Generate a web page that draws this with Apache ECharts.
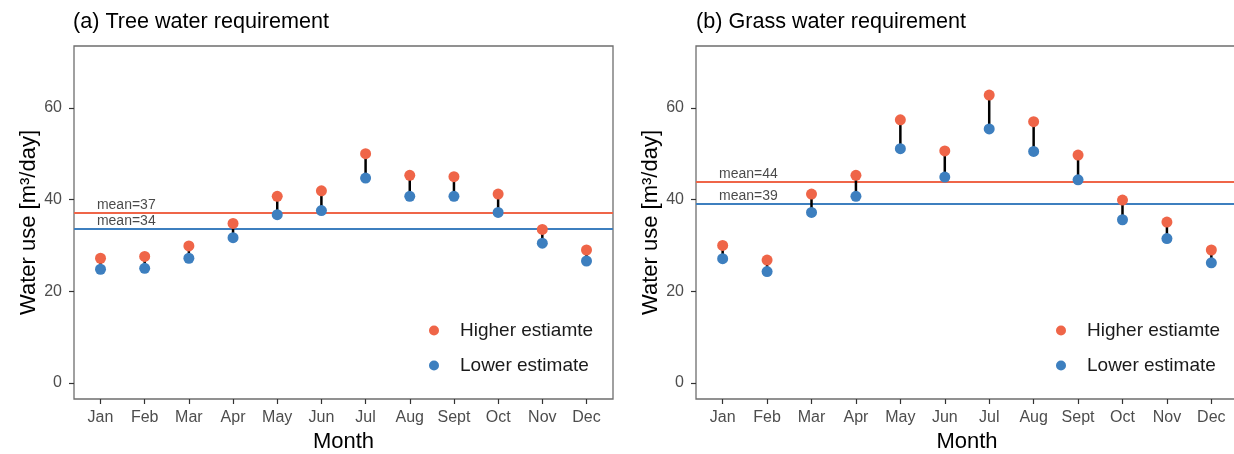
<!DOCTYPE html>
<html>
<head>
<meta charset="utf-8">
<script src="https://cdn.jsdelivr.net/npm/echarts@6/dist/echarts.min.js"></script>
<style>html,body{margin:0;padding:0;background:#fff}#chart{width:1234px;height:454px}</style>
</head>
<body>
<div id="chart"></div>
<script>
const months = ['Jan','Feb','Mar','Apr','May','Jun','Jul','Aug','Sept','Oct','Nov','Dec'];
const treeHigh = [27.2, 27.6, 29.9, 34.8, 40.7, 41.9, 50.0, 45.3, 45.0, 41.2, 33.5, 29.0];
const treeLow  = [24.8, 25.0, 27.2, 31.7, 36.7, 37.6, 44.7, 40.7, 40.7, 37.2, 30.5, 26.6];
const grassHigh = [30.0, 26.8, 41.2, 45.3, 57.4, 50.6, 62.8, 57.0, 49.7, 39.9, 35.1, 29.0];
const grassLow  = [27.1, 24.3, 37.2, 40.7, 51.1, 44.9, 55.4, 50.5, 44.3, 35.6, 31.5, 26.2];
const treeMeans = [37.2, 33.7];
const grassMeans = [43.9, 39.1];
const treeMeanLabels = ['mean=37', 'mean=34'];
const grassMeanLabels = ['mean=44', 'mean=39'];
const yTicks = [0, 20, 40, 60];
const panelTitles = ['(a) Tree water requirement', '(b) Grass water requirement'];
const seriesNames = ['Higher estiamte', 'Lower estimate'];

const RED = '#EF6548';
const BLUE = '#3D7FBF';
const FONT = '"Liberation Sans", Arial, Helvetica, sans-serif';
const xIdx = months.map((m, i) => i);

const chart = echarts.init(document.getElementById('chart'), null, {renderer: 'canvas'});

function xAxisDef(gi) {
  return {
    type: 'value', gridIndex: gi, min: -0.6, max: 11.6, position: 'bottom',
    name: 'Month', nameLocation: 'middle', nameGap: 31,
    nameTextStyle: {fontSize: 22, color: '#000', fontFamily: FONT},
    axisLine: {show: false, onZero: false},
    splitLine: {show: false},
    axisTick: {show: true, length: 5, customValues: xIdx, lineStyle: {color: '#333', width: 1.2}},
    axisLabel: {customValues: xIdx, formatter: v => months[Math.round(v)], fontSize: 16, color: '#4D4D4D', margin: 11, fontFamily: FONT}
  };
}
function yAxisDef(gi) {
  return {
    type: 'value', gridIndex: gi, min: -3.5, max: 73.5, position: 'left',
    name: 'Water use [m³/day]', nameLocation: 'middle', nameGap: 32,
    nameTextStyle: {fontSize: 22, color: '#000', fontFamily: FONT},
    axisLine: {show: false, onZero: false},
    splitLine: {show: false},
    axisTick: {show: true, length: 5, customValues: yTicks, lineStyle: {color: '#333', width: 1.2}},
    axisLabel: {customValues: yTicks, fontSize: 16, color: '#4D4D4D', margin: 12, fontFamily: FONT}
  };
}

function panelSeries(gi, high, low, means, meanLabels) {
  const out = [];
  out.push({
    type: 'custom', xAxisIndex: gi, yAxisIndex: gi, z: 2, silent: true,
    data: xIdx.map(i => [i, low[i], high[i]]),
    encode: {x: 0, y: [1, 2]},
    renderItem: (params, api) => {
      const p1 = api.coord([api.value(0), api.value(1)]);
      const p2 = api.coord([api.value(0), api.value(2)]);
      return {type: 'line', shape: {x1: p1[0], y1: p1[1], x2: p2[0], y2: p2[1]}, style: {stroke: '#000', lineWidth: 2.5}};
    }
  });
  [high, low].forEach((arr, k) => {
    out.push({
      type: 'scatter', name: seriesNames[k], xAxisIndex: gi, yAxisIndex: gi, z: 3,
      symbol: 'circle', symbolSize: 11,
      itemStyle: {color: k === 0 ? RED : BLUE, opacity: 1},
      data: xIdx.map(i => [i, arr[i]]),
      markLine: {
        silent: true, symbol: 'none', z: 1,
        lineStyle: {color: k === 0 ? RED : BLUE, width: 2.2, type: 'solid'},
        label: {show: false},
        data: [{yAxis: means[k]}]
      }
    });
    out.push({
      type: 'scatter', xAxisIndex: gi, yAxisIndex: gi, z: 4, silent: true,
      symbolSize: 1, itemStyle: {color: 'rgba(0,0,0,0)'},
      data: [[-0.07, means[k]]],
      label: {show: true, position: [0, 0], align: 'left', verticalAlign: 'bottom',
        formatter: meanLabels[k], fontSize: 14, color: '#1a1a1a', fontFamily: FONT}
    });
  });
  return out;
}

const legendCommon = {
  orient: 'vertical', icon: 'circle', itemWidth: 10, itemHeight: 10, itemGap: 16,
  data: seriesNames,
  textStyle: {fontSize: 19, color: '#1a1a1a', fontFamily: FONT, padding: [0, 0, 0, 16]}
};

chart.setOption({
  animation: false,
  textStyle: {fontFamily: FONT},
  title: [
    {text: panelTitles[0], left: 73, top: 11, padding: 0, textStyle: {fontSize: 21.6, fontWeight: 'normal', color: '#000', fontFamily: FONT}},
    {text: panelTitles[1], left: 696, top: 11, padding: 0, textStyle: {fontSize: 21.6, fontWeight: 'normal', color: '#000', fontFamily: FONT}}
  ],
  legend: [
    Object.assign({left: 424, top: 316}, legendCommon),
    Object.assign({left: 1051, top: 316}, legendCommon)
  ],
  grid: [
    {left: 74, top: 46, width: 539, height: 353, outerBoundsMode: 'none', containLabel: false, show: true, borderColor: '#6e6e6e', borderWidth: 1.3, backgroundColor: 'transparent'},
    {left: 696, top: 46, width: 542, height: 353, outerBoundsMode: 'none', containLabel: false, show: true, borderColor: '#6e6e6e', borderWidth: 1.3, backgroundColor: 'transparent'}
  ],
  xAxis: [xAxisDef(0), xAxisDef(1)],
  yAxis: [yAxisDef(0), yAxisDef(1)],
  series: [].concat(
    panelSeries(0, treeHigh, treeLow, treeMeans, treeMeanLabels),
    panelSeries(1, grassHigh, grassLow, grassMeans, grassMeanLabels)
  )
});
</script>
</body>
</html>
